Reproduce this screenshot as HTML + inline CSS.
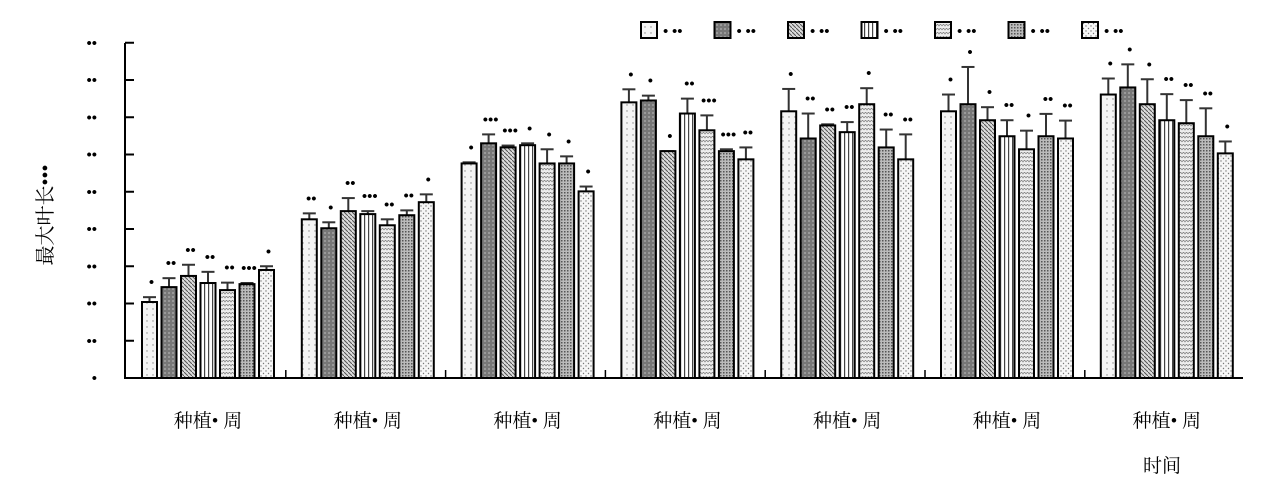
<!DOCTYPE html>
<html><head><meta charset="utf-8"><style>
body{margin:0;background:#fff;}
svg{display:block;font-family:"Liberation Serif","Noto Serif CJK SC",serif;}
</style></head><body>
<svg id="chart" width="1269" height="493" viewBox="0 0 1269 493">
<defs>
<pattern id="p0" width="6" height="6" patternUnits="userSpaceOnUse"><rect width="6" height="6" fill="#f4f4f4"/><circle cx="3" cy="3" r="0.7" fill="#888"/></pattern>
<pattern id="p1" width="4" height="4" patternUnits="userSpaceOnUse"><rect width="4" height="4" fill="#777"/><rect width="2" height="2" fill="#999"/></pattern>
<pattern id="p2" width="4" height="4" patternUnits="userSpaceOnUse"><rect width="4" height="4" fill="#ddd"/><path d="M0,0L4,4" stroke="#555" stroke-width="1"/></pattern>
<pattern id="p3" width="4" height="4" patternUnits="userSpaceOnUse"><rect width="4" height="4" fill="#fff"/><rect x="0" width="1.2" height="4" fill="#444"/></pattern>
<pattern id="p4" width="6" height="4" patternUnits="userSpaceOnUse"><rect width="6" height="4" fill="#eee"/><path d="M0,2L1.5,0L3,2L4.5,0L6,2" stroke="#888" fill="none" stroke-width="0.8"/></pattern>
<pattern id="p5" width="3" height="3" patternUnits="userSpaceOnUse"><rect width="3" height="3" fill="#bbb"/><rect width="1.5" height="1.5" fill="#555"/></pattern>
<pattern id="p6" width="5" height="5" patternUnits="userSpaceOnUse"><rect width="5" height="5" fill="#f6f6f6"/><circle cx="1" cy="1" r="0.7" fill="#777"/><circle cx="3.5" cy="3.5" r="0.7" fill="#777"/></pattern>
</defs>
<g id="plot"></g>
</svg>
<script>
const groups=["种植• 周","种植• 周","种植• 周","种植• 周","种植• 周","种植• 周","种植• 周"];
const seriesNames=["• ••","• ••","• ••","• ••","• ••","• ••","• ••"];
const yTickLabels=["•","••","••","••","••","••","••","••","••","••"];
const s0=[2.04,4.26,5.76,7.4,7.16,7.16,7.61];
const s1=[2.44,4.02,6.3,7.45,6.43,7.35,7.8];
const s2=[2.74,4.48,6.19,6.09,6.78,6.92,7.35];
const s3=[2.55,4.4,6.25,7.1,6.6,6.49,6.92];
const s4=[2.36,4.1,5.76,6.65,7.35,6.14,6.84];
const s5=[2.52,4.37,5.76,6.09,6.19,6.49,6.49];
const s6=[2.9,4.72,5.01,5.87,5.87,6.43,6.03];
const e0=[0.13,0.16,0.03,0.35,0.6,0.45,0.43];
const e1=[0.24,0.16,0.24,0.13,0.67,1.0,0.62];
const e2=[0.3,0.35,0.05,0.0,0.03,0.35,0.67];
const e3=[0.3,0.08,0.05,0.4,0.27,0.43,0.7];
const e4=[0.2,0.16,0.38,0.4,0.43,0.5,0.62];
const e5=[0.03,0.13,0.19,0.05,0.48,0.6,0.75];
const e6=[0.1,0.21,0.13,0.32,0.67,0.48,0.32];
const sig0=["•","••","•","•","•","•","•"];
const sig1=["••","•","•••","•","••","•","•"];
const sig2=["••","••","•••","•","••","•","•"];
const sig3=["••","•••","•","••","••","••","••"];
const sig4=["••","••","•","•••","•","•","••"];
const sig5=["•••","••","•","•••","••","••","••"];
const sig6=["•","•","•","••","••","••","•"];
const series=[s0,s1,s2,s3,s4,s5,s6],errs=[e0,e1,e2,e3,e4,e5,e6],sigs=[sig0,sig1,sig2,sig3,sig4,sig5,sig6];
const NS="http://www.w3.org/2000/svg",g=document.getElementById('plot');
const x0=125,x1=1243,yBase=378,unit=37.25,gStart=142,gStep=159.8,bStep=19.5,bW=15;
const y=v=>yBase-v*unit;
function mk(t,a,p){const e=document.createElementNS(NS,t);for(const k in a)e.setAttribute(k,a[k]);(p||g).appendChild(e);return e;}
// axes
let ax=mk('line',{x1:x0,y1:43,x2:x0,y2:yBase,stroke:'#000','stroke-width':2});

let bx=mk('line',{x1:x0-1,y1:yBase,x2:x1,y2:yBase,stroke:'#000','stroke-width':2});

yTickLabels.forEach((l,i)=>{const yy=y(i);
 if(i>0){const t=mk('line',{x1:x0,y1:yy,x2:x0+9,y2:yy,stroke:'#000','stroke-width':2});
 }
 const tx=mk('text',{x:97,y:yy+5,'text-anchor':'end','font-size':15,'font-weight':'bold'});tx.textContent=l;
 });
// group separators
groups.forEach((n,gi)=>{
 if(gi>0){const s=mk('line',{x1:gStart+gi*gStep-16,y1:yBase,x2:gStart+gi*gStep-16,y2:yBase-8,stroke:'#000','stroke-width':1.5});
 }
 const cx=gStart+gi*gStep+(6*bStep+bW)/2;
 const t=mk('text',{x:cx,y:427,'text-anchor':'middle','font-size':19});t.textContent=n;
 
 series.forEach((s,si)=>{const bx0=gStart+gi*gStep+si*bStep,top=y(s[gi]);
  const eTop=y(s[gi]+errs[si][gi]);
  const el=mk('line',{x1:bx0+bW/2,y1:top,x2:bx0+bW/2,y2:eTop,stroke:'#333','stroke-width':2});
  
  const ec=mk('line',{x1:bx0+1,y1:eTop,x2:bx0+bW-1,y2:eTop,stroke:'#333','stroke-width':2});
  
  const r=mk('rect',{x:bx0,y:top,width:bW,height:yBase-top,fill:'url(#p'+si+')',stroke:'#000','stroke-width':2});
  
  const st=mk('text',{x:bx0+bW/2+2,y:eTop-10,'text-anchor':'middle','font-size':15,'font-weight':'bold'});st.textContent=sigs[si][gi];
  
 });
});
// legend
seriesNames.forEach((n,i)=>{const lx=641+i*73.5;
 const r=mk('rect',{x:lx,y:22,width:16,height:16,fill:'url(#p'+i+')',stroke:'#000','stroke-width':2});
 
 const t=mk('text',{x:lx+22,y:36,'font-size':15,'font-weight':'bold'});t.textContent=n;
 });
// titles
const yt=mk('text',{x:0,y:0,'font-size':20,'text-anchor':'middle',transform:'translate(52,215) rotate(-90)'});yt.textContent="最大叶长•••";

const xt=mk('text',{x:1162,y:472,'font-size':19,'text-anchor':'middle'});xt.textContent="时间";

</script>
</body></html>
